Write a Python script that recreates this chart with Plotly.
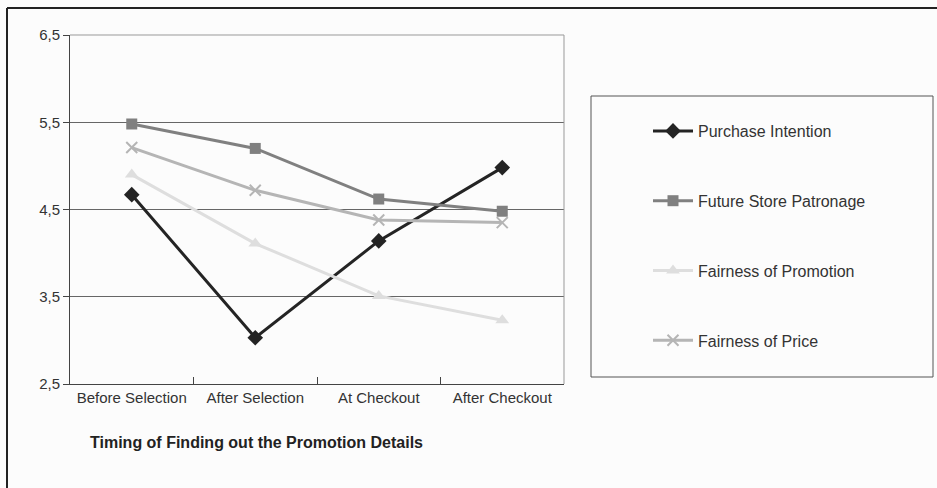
import plotly.graph_objects as go

categories = ["Before Selection", "After Selection", "At Checkout", "After Checkout"]
purchase_intention = [4.67, 3.03, 4.14, 4.98]
future_store_patronage = [5.48, 5.20, 4.62, 4.48]
fairness_of_promotion = [4.90, 4.11, 3.51, 3.23]
fairness_of_price = [5.21, 4.72, 4.38, 4.35]
y_ticks = [2.5, 3.5, 4.5, 5.5, 6.5]
y_tick_labels = ["2,5", "3,5", "4,5", "5,5", "6,5"]
x_title = "Timing of Finding out the Promotion Details"

FONT = "Liberation Sans, Arial, sans-serif"

series = [
    ("Purchase Intention", purchase_intention, "#242424", "diamond", 12),
    ("Future Store Patronage", future_store_patronage, "#808080", "square", 11),
    ("Fairness of Promotion", fairness_of_promotion, "#dedede", "triangle-up", 12),
    ("Fairness of Price", fairness_of_price, "#b5b5b5", "x-thin-open", 11),
]

fig = go.Figure()
for name, vals, color, sym, size in series:
    marker = dict(symbol=sym, size=size, color=color)
    if sym == "x-thin-open":
        marker["line"] = dict(color=color, width=2)
    fig.add_trace(go.Scatter(
        x=categories, y=vals, name=name, mode="lines+markers",
        line=dict(color=color, width=3), marker=marker,
        legendgroup=name,
    ))

# geometry helpers (plot area px: x 70..564, y 35..384)
L, R, T, B = 70, 564, 35, 384
W, H = 937, 488
def px(x):
    return (x - L) / (R - L)
def py(y):
    return (B - y) / (B - T)

fig.update_layout(
    width=W, height=H,
    margin=dict(l=L, r=W - R, t=T, b=H - B),
    paper_bgcolor="#fcfcfc",
    plot_bgcolor="#fcfcfc",
    font=dict(family=FONT, size=15, color="#333333"),
    showlegend=True,
    legend=dict(
        x=px(648), y=py(114), xanchor="left", yanchor="top",
        bgcolor="rgba(0,0,0,0)", borderwidth=0,
        tracegroupgap=46,
        font=dict(family=FONT, size=16, color="#333333"),
        itemwidth=40,
    ),
    xaxis=dict(
        type="category", range=[-0.5, 3.5],
        tickson="boundaries", ticks="inside", ticklen=7, tickcolor="#444444",
        showline=True, linecolor="#444444", linewidth=1,
        showgrid=False, zeroline=False,
        tickfont=dict(family=FONT, size=15, color="#333333"),
    ),
    yaxis=dict(
        range=[2.5, 6.5], tickvals=y_ticks, ticktext=y_tick_labels,
        ticks="outside", ticklen=6, tickcolor="#444444",
        showline=True, linecolor="#444444", linewidth=1,
        showgrid=True, gridcolor="#666666", gridwidth=1,
        zeroline=False,
        tickfont=dict(family=FONT, size=15, color="#333333"),
    ),
    shapes=[
        # plot area top/right border
        dict(type="line", xref="paper", yref="paper", x0=0, x1=1, y0=1, y1=1,
             line=dict(color="#999999", width=1)),
        dict(type="line", xref="paper", yref="paper", x0=1, x1=1, y0=0, y1=1,
             line=dict(color="#999999", width=1)),
        # legend frame
        dict(type="rect", xref="paper", yref="paper",
             x0=px(591), x1=px(933), y0=py(377), y1=py(96),
             line=dict(color="#555555", width=1)),
        # outer chart frame (top and left)
        dict(type="line", xref="paper", yref="paper",
             x0=px(7), x1=px(937), y0=py(8), y1=py(8),
             line=dict(color="#222222", width=2)),
        dict(type="line", xref="paper", yref="paper",
             x0=px(7), x1=px(7), y0=py(8), y1=py(488),
             line=dict(color="#222222", width=2)),
    ],
    annotations=[
        dict(text="<b>" + x_title + "</b>", xref="paper", yref="paper",
             x=px(88), y=py(442), xanchor="left", yanchor="middle",
             showarrow=False, font=dict(family=FONT, size=16, color="#222222")),
    ],
)

fig.write_html(
    "out.html",
    config={"displayModeBar": False},
    post_script="document.body.style.margin='0px';document.body.style.overflow='hidden';",
)
